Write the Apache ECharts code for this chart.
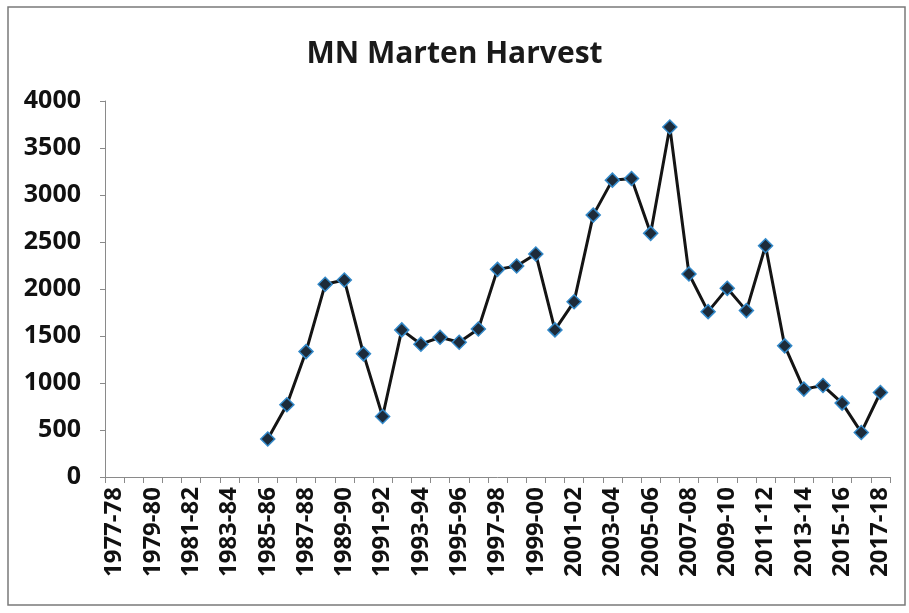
<!DOCTYPE html>
<html><head><meta charset="utf-8">
<script src="https://cdn.jsdelivr.net/npm/echarts@6/dist/echarts.min.js"></script>
<style>html,body{margin:0;padding:0;background:#fff}#c{width:909px;height:613px}</style>
</head><body><div id="c"></div>
<script>
const seasons = [];
for (let y = 1977; y <= 2017; y++) {
  seasons.push(y + '-' + String((y + 1) % 100).padStart(2, '0'));
}
const harvest = [
  null, null, null, null, null, null, null, null,
  404, 768, 1334, 2050, 2096, 1310, 644, 1565, 1413, 1487, 1434, 1575,
  2209, 2244, 2372, 1565, 1865, 2786, 3158, 3176, 2592, 3724, 2159,
  1759, 2007, 1770, 2460, 1395, 935, 973, 786, 474, 899
];
const chart = echarts.init(document.getElementById('c'));
const font = '"Open Sans", Lato, sans-serif';
chart.setOption({
  animation: false,
  backgroundColor: '#fff',
  title: {
    text: 'MN Marten Harvest', left: 'center', top: 34,
    textStyle: { fontFamily: font, fontWeight: 'bold', fontSize: 30, color: '#1a1a1a' }
  },
  graphic: [{
    type: 'rect', shape: { x: 8, y: 7, width: 897, height: 598 },
    style: { fill: 'none', stroke: '#7a7a7a', lineWidth: 1.5 }, silent: true
  }],
  grid: { left: 105, right: 19, top: 101, bottom: 136 },
  xAxis: {
    type: 'category', data: seasons, boundaryGap: true,
    axisLine: { lineStyle: { color: '#8a8a8a', width: 1 } },
    axisTick: { show: true, interval: 0, length: 6, lineStyle: { color: '#8a8a8a' } },
    axisLabel: { interval: 1, rotate: 90, margin: 10, fontFamily: font, fontWeight: 'bold', fontSize: 24, color: '#111' },
    splitLine: { show: false }
  },
  yAxis: {
    type: 'value', min: 0, max: 4000, interval: 500,
    axisLine: { show: true, lineStyle: { color: '#8a8a8a', width: 1 } },
    axisTick: { show: true, length: 5, lineStyle: { color: '#8a8a8a' } },
    axisLabel: { margin: 24, fontFamily: font, fontWeight: 'bold', fontSize: 25, color: '#111', formatter: v => String(v) },
    splitLine: { show: false }
  },
  series: [{
    type: 'line', data: harvest, connectNulls: false,
    symbol: 'diamond', symbolSize: 14, showAllSymbol: true,
    lineStyle: { color: '#141414', width: 3 },
    itemStyle: { color: '#1d2b3a', borderColor: '#3389c9', borderWidth: 1.5 }
  }]
});
</script></body></html>
